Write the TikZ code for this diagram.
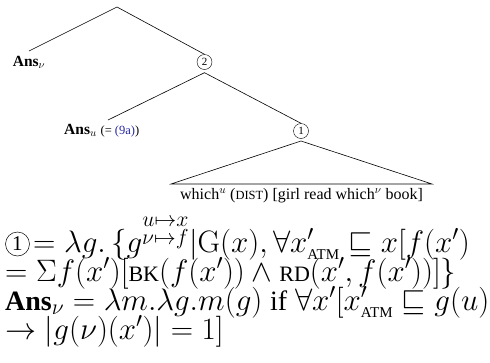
\RequirePackage{fix-cm}
\documentclass[tikz,border=0pt]{standalone}
\usepackage{amsmath,amssymb}
\usepackage[no-math]{fontspec}
\setmainfont{Liberation Serif}
\definecolor{refblue}{RGB}{40,40,165}
\newcommand{\fsc}[1]{{\fontsize{0.78em}{1em}\selectfont #1}}
\newcommand{\capsat}[2]{\text{\fontsize{#1}{#1}\selectfont #2}}
\begin{document}
\begin{tikzpicture}[x=1pt,y=-1pt,
  branch/.style={draw=black,line width=0.6pt},
  cnum/.style={circle,draw,line width=0.4pt,inner sep=0pt,minimum size=15pt,font=\fontsize{11}{11}\selectfont},
  lbl/.style={anchor=base west,inner sep=0pt,font=\fontsize{15.5}{17}\selectfont},
  fml/.style={anchor=base west,inner sep=0pt,font=\fontsize{31}{31}\selectfont}]
\useasboundingbox (0,0) rectangle (490,362);
\clip (0,0) rectangle (490,362);
% tree
\coordinate (root) at (117,7);
\coordinate (lend) at (29,51);
\node[cnum] (two) at (204.5,62) {2};
\node[lbl] (ansnu) at (12.7,66) {\textbf{Ans}$_\nu$};
\coordinate (uend) at (108,120);
\node[lbl] (ansu) at (64,134) {\textbf{Ans}$_u$ {\fontsize{12.5}{13}\selectfont(= \textcolor{refblue}{(9a)})}};
\node[cnum] (one) at (301,131) {1};
\coordinate (apex) at (301,141);
\coordinate (bl) at (171,184);
\coordinate (br) at (432,184);
\node[anchor=base,inner sep=0pt,font=\fontsize{16}{18}\selectfont] (leaf) at (301.5,199) {which$^u$ (\fsc{DIST}) [girl read which$^\nu$ book]};
\draw[branch] (lend) -- (root) -- (two.north);
\draw[branch] (uend) -- ([yshift=-3pt]two.south) -- (one.north);
\draw[branch] (apex) -- (bl) -- (br) -- cycle;
% formulas
\node[circle,draw,line width=0.5pt,inner sep=0pt,minimum size=24pt,font=\fontsize{21}{21}\selectfont] (c1) at (17.5,244) {1};
\node[fml] (f1) at (33,252) {$= \lambda g.\,\{g^{\substack{u\mapsto x\\ \nu\mapsto f}}|\mathrm{G}(x), \forall x'_{\capsat{15}{ATM}} \sqsubseteq x[f(x')$};
\node[fml] (f2) at (5,281) {$= \Sigma f(x')[\capsat{22}{BK}(f(x'))\wedge \capsat{22}{RD}(x', f(x'))]\}$};
\node[fml] (f3) at (5,310) {{\fontsize{28}{28}\selectfont\textbf{Ans}}$_\nu = \lambda m.\lambda g.m(g)$ {\fontsize{28}{28}\selectfont if} $\forall x'[x'_{\capsat{15}{ATM}} \sqsubseteq g(u)$};
\node[fml] (f4) at (5,339) {$\rightarrow |g(\nu)(x')| = 1]$};
\end{tikzpicture}
\end{document}
